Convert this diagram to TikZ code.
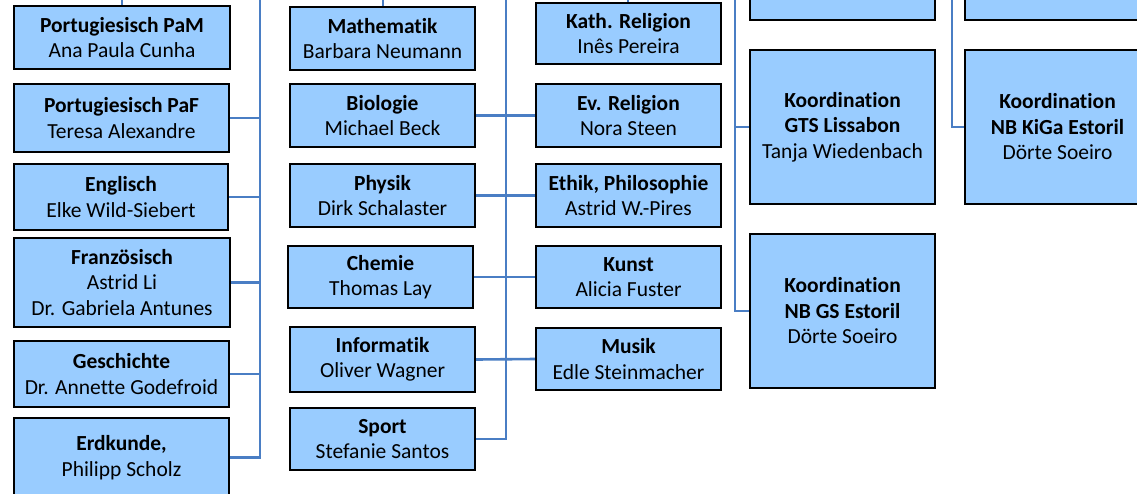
\documentclass[tikz,border=0pt]{standalone}
\usepackage{fontspec}
\setmainfont[Ligatures=NoCommon]{Carlito}
\definecolor{boxfill}{HTML}{99CCFF}
\definecolor{linkblue}{HTML}{4A7EC4}
\tikzset{
  x=1pt,y=-1pt,
  orgbox/.style={draw=black,line width=2.4pt,fill=boxfill,align=center,inner sep=0pt,
    font=\fontsize{21.5}{25.5}\selectfont},
  link/.style={draw=linkblue,line width=2.6pt},
}
\newcommand{\obox}[6]{%
  \node[orgbox,minimum width={#4-#2},minimum height={#5-#3}] (#1) at ({(#2+#4)/2},{(#3+#5)/2}) {#6};}
\begin{document}
\begin{tikzpicture}
\clip (0,0) rectangle (1137,493);
\fill[white] (0,0) rectangle (1137,493);
% connector origins
\coordinate (inpam) at (122,-5);
\coordinate (inmat) at (383,-5);
\coordinate (inkat) at (628,-5);
\coordinate (busa) at (260,-5);
\coordinate (busb) at (506,-5);
\coordinate (busc) at (735,-5);
\coordinate (busd) at (952,-5);
% column 1
\obox{pam}{14}{6}{230}{69}{\textbf{Portugiesisch PaM}\\Ana Paula Cunha}
\obox{paf}{14}{84}{229}{152}{\textbf{Portugiesisch PaF}\\Teresa Alexandre}
\obox{eng}{14}{164}{228}{230}{\textbf{Englisch}\\Elke Wild-Siebert}
\obox{fra}{14}{238}{230}{327}{\textbf{Französisch}\\Astrid Li\\Dr. Gabriela Antunes}
\obox{ges}{14}{341}{229}{407}{\textbf{Geschichte}\\Dr. Annette Godefroid}
\obox{erd}{14}{418}{229}{497}{\textbf{Erdkunde,}\\Philipp Scholz}
% column 2
\obox{mat}{290}{7}{475}{70}{\textbf{Mathematik}\\Barbara Neumann}
\obox{bio}{290}{84}{475}{147}{\textbf{Biologie}\\Michael Beck}
\obox{phy}{290}{164}{475}{227}{\textbf{Physik}\\Dirk Schalaster}
\obox{che}{288}{246}{473}{308}{\textbf{Chemie}\\Thomas Lay}
\obox{inf}{290}{327}{475}{392}{\textbf{Informatik}\\Oliver Wagner}
\obox{spo}{290}{408}{475}{470}{\textbf{Sport}\\Stefanie Santos}
% column 3
\obox{kat}{536}{3}{721}{64}{\textbf{Kath. Religion}\\Inês Pereira}
\obox{evr}{536}{84}{721}{147}{\textbf{Ev. Religion}\\Nora Steen}
\obox{eth}{536}{164}{721}{227}{\textbf{Ethik, Philosophie}\\Astrid W.-Pires}
\obox{kun}{536}{246}{721}{308}{\textbf{Kunst}\\Alicia Fuster}
\obox{mus}{536}{328}{721}{390}{\textbf{Musik}\\Edle Steinmacher}
% column 4
\obox{topa}{750}{-40}{935}{20}{}
\obox{gts}{750}{50}{935}{204}{\textbf{Koordination}\\\textbf{GTS Lissabon}\\Tanja Wiedenbach}
\obox{nbgs}{750}{234}{935}{388}{\textbf{Koordination}\\\textbf{NB GS Estoril}\\Dörte Soeiro}
% column 5
\obox{topb}{965}{-40}{1150}{20}{}
\obox{kiga}{965}{50}{1150}{204}{\textbf{Koordination}\\\textbf{NB KiGa Estoril}\\Dörte Soeiro}
% connectors
\draw[link] (inpam) -- (pam.north -| inpam);
\draw[link] (inmat) -- (mat.north -| inmat);
\draw[link] (inkat) -- (kat.north -| inkat);
\draw[link] (busa) |- (erd.east);
\draw[link] (paf.east) -- (paf.east -| busa);
\draw[link] (eng.east) -- (eng.east -| busa);
\draw[link] (fra.east) -- (fra.east -| busa);
\draw[link] (ges.east) -- (ges.east -| busa);
\draw[link] (busb) |- (spo.east);
\draw[link] (bio.east) -- (evr.west);
\draw[link] (phy.east) -- (eth.west);
\draw[link] (che.east) -- (kun.west);
\draw[link] (inf.east) -- (mus.west);
\draw[link] (busc) |- (nbgs.west);
\draw[link] (gts.west) -- (gts.west -| busc);
\draw[link] (busd) |- (kiga.west);
\end{tikzpicture}
\end{document}
